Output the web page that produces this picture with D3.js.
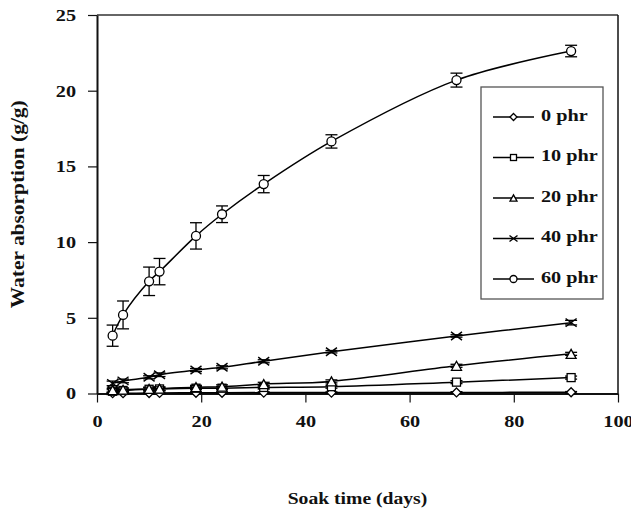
<!DOCTYPE html>
<html>
<head>
<meta charset="utf-8">
<script src="https://cdn.jsdelivr.net/npm/d3@7"></script>
<style>
  body { margin: 0; background: #fff; }
  svg { display: block; font-family: "Liberation Serif", "Times New Roman", serif; font-weight: bold; }
</style>
</head>
<body>
<div id="chart"></div>
<script>
// 数据：浸泡天数 与 各配方吸水量
const days = [3, 5, 10, 12, 19, 24, 32, 45, 69, 91];
const seriesNames = ['0 phr', '10 phr', '20 phr', '40 phr', '60 phr'];
const phr0  = [0.02, 0.02, 0.03, 0.04, 0.05, 0.05, 0.06, 0.06, 0.07, 0.08];
const phr10 = [0.15, 0.2, 0.28, 0.3, 0.35, 0.35, 0.4, 0.45, 0.75, 1.05];
const phr20 = [0.22, 0.25, 0.3, 0.32, 0.42, 0.45, 0.62, 0.8, 1.83, 2.62];
const phr40 = [0.67, 0.83, 1.07, 1.24, 1.55, 1.73, 2.13, 2.76, 3.8, 4.68];
const phr60 = [3.82, 5.19, 7.41, 8.05, 10.41, 11.84, 13.83, 16.65, 20.7, 22.62];
// 误差棒（±）
const err0  = [0.05, 0.05, 0.05, 0.05, 0.05, 0.05, 0.05, 0.05, 0.05, 0.05];
const err10 = [0.1, 0.1, 0.1, 0.1, 0.1, 0.1, 0.1, 0.1, 0.1, 0.1];
const err20 = [0.12, 0.12, 0.12, 0.12, 0.12, 0.12, 0.12, 0.1, 0.1, 0.1];
const err40 = [0.15, 0.12, 0.1, 0.12, 0.1, 0.1, 0.1, 0.08, 0.08, 0.15];
const err60 = [0.7, 0.92, 0.94, 0.87, 0.87, 0.55, 0.57, 0.44, 0.46, 0.38];
const xTicks = [0, 20, 40, 60, 80, 100];
const yTicks = [0, 5, 10, 15, 20, 25];

const allValues = [phr0, phr10, phr20, phr40, phr60];
const allErrors = [err0, err10, err20, err40, err60];
const symbols = ['diamond', 'square', 'triangle', 'cross', 'circle'];

const width = 631, height = 526;
const margin = {left: 97, right: 13, top: 15, bottom: 132.5};
const stretch = 1.19;   // 原图字体横向较宽

const svg = d3.select('#chart').append('svg')
  .attr('width', width)
  .attr('height', height);

// 文字横向拉伸
function widen(sel) {
  sel.each(function() {
    const len = this.getComputedTextLength();
    d3.select(this).attr('textLength', len * stretch).attr('lengthAdjust', 'spacingAndGlyphs');
  });
}

const x = d3.scaleLinear().domain([0, 100]).range([margin.left, width - margin.right]);
const y = d3.scaleLinear().domain([0, 25]).range([height - margin.bottom, margin.top]);

// 边框（上、右）
svg.append('line')
  .attr('x1', x(0)).attr('x2', x(100)).attr('y1', y(25)).attr('y2', y(25))
  .attr('stroke', '#333').attr('stroke-width', 1.5);
svg.append('line')
  .attr('x1', x(100)).attr('x2', x(100)).attr('y1', y(25)).attr('y2', y(0))
  .attr('stroke', '#111').attr('stroke-width', 1.5);

// 坐标轴
const xAxis = svg.append('g')
  .attr('transform', `translate(0,${y(0)})`)
  .call(d3.axisBottom(x).tickValues(xTicks).tickSize(9).tickSizeOuter(0).tickPadding(12));
const yAxis = svg.append('g')
  .attr('transform', `translate(${x(0)},0)`)
  .call(d3.axisLeft(y).tickValues(yTicks).tickSize(9).tickSizeOuter(0).tickPadding(12));

[xAxis, yAxis].forEach(a => {
  a.select('.domain').attr('stroke', '#111').attr('stroke-width', 2);
  a.selectAll('.tick line').attr('stroke', '#111').attr('stroke-width', 1.2);
  a.selectAll('.tick text')
    .style('font-family', '"Liberation Serif", "Times New Roman", serif')
    .style('font-weight', 'bold')
    .style('font-size', '17px')
    .attr('fill', '#111')
    .call(widen);
});

// 轴标题
svg.append('text')
  .attr('transform', `translate(20,${(y(0) + y(25)) / 2}) rotate(-90)`)
  .attr('text-anchor', 'middle')
  .attr('dominant-baseline', 'middle')
  .style('font-size', '18px')
  .attr('fill', '#111')
  .text('Water  absorption (g/g)')
  .call(widen);

svg.append('text')
  .attr('x', (x(0) + x(100)) / 2)
  .attr('y', 500)
  .attr('text-anchor', 'middle')
  .attr('dominant-baseline', 'middle')
  .style('font-size', '16.5px')
  .attr('fill', '#111')
  .text('Soak time (days)')
  .call(widen);

// 标记形状
function drawMarker(g, type, cx, cy, s) {
  if (type === 'circle') {
    g.append('circle').attr('cx', cx).attr('cy', cy).attr('r', s / 2)
      .attr('fill', '#fff').attr('stroke', '#000').attr('stroke-width', 1.3);
  } else if (type === 'square') {
    g.append('rect').attr('x', cx - s / 2).attr('y', cy - s / 2).attr('width', s).attr('height', s)
      .attr('fill', '#fff').attr('stroke', '#000').attr('stroke-width', 1.3);
  } else if (type === 'triangle') {
    const h = s * 0.9;
    g.append('path')
      .attr('d', `M${cx},${cy - h / 2}L${cx + s / 2},${cy + h / 2}L${cx - s / 2},${cy + h / 2}Z`)
      .attr('fill', '#fff').attr('stroke', '#000').attr('stroke-width', 1.3);
  } else if (type === 'diamond') {
    g.append('path')
      .attr('d', `M${cx},${cy - s / 2}L${cx + s / 2},${cy}L${cx},${cy + s / 2}L${cx - s / 2},${cy}Z`)
      .attr('fill', '#fff').attr('stroke', '#000').attr('stroke-width', 1.3);
  } else if (type === 'cross') {
    const r = s / 2;
    g.append('path')
      .attr('d', `M${cx - r},${cy - r * 0.75}L${cx + r},${cy + r * 0.75}M${cx - r},${cy + r * 0.75}L${cx + r},${cy - r * 0.75}`)
      .attr('fill', 'none').attr('stroke', '#000').attr('stroke-width', 1.4);
  }
}

const line = d3.line()
  .x(d => x(d.day))
  .y(d => y(d.v))
  .curve(d3.curveCatmullRom.alpha(0.5));

const markerSize = {diamond: 9, square: 8, triangle: 10, cross: 11, circle: 9};

allValues.forEach((vals, si) => {
  const data = days.map((d, i) => ({day: d, v: vals[i], e: allErrors[si][i]}));
  const g = svg.append('g');
  g.append('path')
    .datum(data)
    .attr('d', line)
    .attr('fill', 'none')
    .attr('stroke', '#000')
    .attr('stroke-width', 1.5);
  // 误差棒
  data.forEach(d => {
    const cx = x(d.day), y1 = y(d.v + d.e), y2 = y(Math.max(0, d.v - d.e));
    g.append('line').attr('x1', cx).attr('x2', cx).attr('y1', y1).attr('y2', y2)
      .attr('stroke', '#000').attr('stroke-width', 1.3);
    [y1, y(d.v - d.e)].forEach(yy => {
      g.append('line').attr('x1', cx - 6).attr('x2', cx + 6).attr('y1', yy).attr('y2', yy)
        .attr('stroke', '#000').attr('stroke-width', 1.3);
    });
  });
  data.forEach(d => drawMarker(g, symbols[si], x(d.day), y(d.v), markerSize[symbols[si]]));
});

// 图例
const legend = svg.append('g');
legend.append('rect')
  .attr('x', 481).attr('y', 87).attr('width', 122).attr('height', 212)
  .attr('fill', '#fff').attr('stroke', '#555').attr('stroke-width', 1.3);
const legendSize = {diamond: 7, square: 6, triangle: 7, cross: 8, circle: 7};
seriesNames.forEach((name, i) => {
  const ly = 117 + i * 40.5;
  legend.append('line').attr('x1', 493).attr('x2', 534).attr('y1', ly).attr('y2', ly)
    .attr('stroke', '#000').attr('stroke-width', 1.5);
  drawMarker(legend, symbols[i], 513.5, ly, legendSize[symbols[i]]);
  legend.append('text')
    .attr('x', 541).attr('y', ly)
    .attr('dominant-baseline', 'middle')
    .style('font-size', '17px')
    .attr('fill', '#111')
    .text(name)
    .call(widen);
});
</script>
</body>
</html>
